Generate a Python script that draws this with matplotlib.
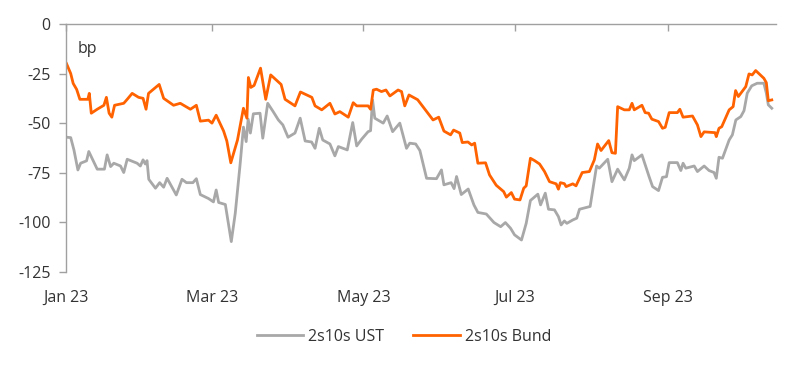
import matplotlib
matplotlib.use("Agg")
import matplotlib.pyplot as plt
import pandas as pd

plt.rcParams['font.family'] = ['Open Sans', 'DejaVu Sans']

# day offsets from 1 Jan 2023 and values (bp)
bund_day = [0.2, 1.9, 2.9, 4.3, 5.6, 8.8, 9.4, 10.2, 12.6, 15.3, 16.3, 17.4, 18.5, 19.6, 23.3, 24.7,
            26.7, 29.3, 31.1, 32.3, 33.3, 37.6, 39.4, 43.4, 46.1, 50.2, 52.6, 54.2, 57.5, 58.9, 60.6,
            63.6, 64.9, 66.5, 69.2, 71.6, 73.0, 73.6, 74.6, 75.9, 78.5, 80.6, 82.6, 86.8, 88.4, 92.4,
            94.6, 99.2, 100.5, 103.2, 106.5, 108.5, 110.5, 113.9, 115.9, 117.3, 121.9, 122.9, 124.0,
            125.3, 127.3, 129.1, 130.7, 134.0, 135.4, 136.7, 138.4, 141.9, 144.8, 148.1, 150.4, 152.5,
            155.2, 156.4, 158.9, 159.9, 162.2, 163.7, 164.9, 166.2, 169.3, 170.9, 173.6, 176.6, 177.7,
            179.7, 181.0, 183.2, 184.7, 185.7, 187.4, 189.1, 191.1, 193.1, 195.1, 197.8, 198.7, 199.5,
            201.1, 201.8, 204.5, 205.8, 208.3, 211.2, 213.2, 214.5, 215.9, 219.0, 220.3, 221.7, 222.6,
            225.3, 227.3, 228.4, 229.3, 232.4, 233.7, 235.1, 236.4, 239.1, 240.7, 241.8, 243.4, 246.7,
            247.7, 249.0, 252.8, 254.8, 256.2, 257.5, 261.9, 262.4, 263.5, 264.6, 267.6, 269.2, 270.2,
            271.3, 274.3, 275.6, 276.9, 278.3, 281.6, 282.6, 283.4, 284.8]
bund_val = [-20, -25, -30, -33, -38, -38, -35, -45, -43, -41, -37, -45, -47, -41, -40, -38,
            -35, -37, -37.5, -43, -35, -30.5, -37.5, -41, -40, -43, -41, -49, -48.5, -50, -46,
            -54, -59, -70, -58.5, -42.5, -47.5, -27, -32, -31, -22.3, -38, -25.7, -30.5, -38, -41.3,
            -34.3, -37, -41.3, -43.3, -40, -45.4, -44.2, -47, -39.7, -41.3, -41.3, -43, -33.3,
            -32.9, -34.1, -33.3, -36.3, -33.3, -34.1, -41.3, -35.8, -38.2, -43, -48.4, -47, -54,
            -55.9, -53.5, -55, -59.8, -59.5, -61, -60.1, -70.2, -70, -76.1, -81.3, -84.5, -87.3,
            -85, -88.3, -88.7, -82.8, -81.6, -67.7, -68.9, -70.6, -74.4, -79.5, -80.6, -83.3, -80,
            -80.5, -82, -80.6, -81.6, -74.9, -74.4, -68.5, -60.5, -63.8, -58.8, -64.9, -65.2, -41.7,
            -43.3, -43.3, -40, -43.3, -41, -44.7, -45, -48, -49.2, -52.6, -52.1, -44.7, -44.7,
            -43, -47, -46.4, -50.9, -56.8, -54.4, -54.8, -56.8, -52.6, -51.8, -43.3, -41.7, -33.6,
            -36.6, -31.6, -25.2, -25.7, -23.5, -27.4, -29.6, -38.7, -38.3]

ust_day = [0.2, 1.9, 3.2, 4.8, 5.9, 8.3, 9.2, 11.0, 12.6, 15.5, 16.6, 18.0, 19.3, 22.0, 23.3, 24.7,
           28.7, 30.0, 31.1, 32.0, 32.7, 33.4, 36.1, 37.8, 39.4, 40.8, 44.5, 46.8, 48.6, 51.2, 52.6,
           54.2, 57.5, 59.5, 60.6, 61.6, 64.3, 66.7, 68.3, 70.3, 71.6, 72.7, 73.5, 74.4, 75.6, 78.3,
           79.4, 81.4, 83.6, 85.7, 87.5, 89.6, 92.4, 94.5, 96.5, 99.1, 100.5, 102.2, 103.6, 106.5,
           108.5, 109.9, 113.5, 115.7, 117.3, 119.3, 121.9, 122.9, 123.7, 124.6, 128.0, 129.6, 131.8,
           134.7, 137.4, 138.7, 141.1, 142.8, 145.5, 149.5, 151.5, 152.5, 155.4, 156.6, 157.6, 159.5,
           162.3, 164.6, 166.2, 169.6, 172.7, 175.4, 177.3, 179.4, 181.0, 183.8, 185.7, 187.4, 190.4,
           191.5, 193.4, 194.7, 197.1, 198.7, 199.8, 201.1, 202.1, 204.5, 206.1, 207.2, 211.5, 214.1,
           215.2, 218.6, 220.3, 222.6, 225.3, 227.3, 228.4, 229.3, 232.4, 235.3, 236.7, 239.1, 240.7,
           242.3, 243.4, 246.7, 248.1, 249.0, 250.1, 253.5, 254.8, 257.5, 259.5, 261.5, 262.4, 263.5,
           264.9, 267.6, 268.9, 270.3, 272.3, 273.6, 274.9, 276.7, 278.9, 281.6, 282.6, 283.4, 284.8]
ust_val = [-57.1, -57.3, -63.5, -73.6, -70.2, -69, -64.3, -69, -73.2, -73.2, -66, -71.9, -70.2, -71.6, -74.9, -68.2,
           -70.2, -71.6, -68.5, -70.6, -68.9, -78.3, -82.8, -80, -82.3, -77.8, -86.2, -78.3, -80, -80, -78,
           -86, -88, -89.7, -83.7, -90, -91, -109.7, -95.4, -70.2, -52, -59.3, -48, -55, -45.3, -45,
           -57.6, -40, -44.2, -48.4, -50.9, -57.1, -55, -47.5, -59, -59.5, -62.7, -52.6, -58.5, -60.5,
           -66.5, -61.8, -63.5, -49.7, -61.5, -58.1, -54.3, -53.8, -38.3, -47.5, -50, -46.4, -54.3,
           -50, -62.7, -60.1, -60.5, -63.8, -77.8, -78, -73.6, -81.1, -80, -83, -76.9, -86,
           -83.2, -91.2, -95, -95.8, -100.1, -102.2, -100.1, -103, -106.3, -108.9, -100.5, -89, -85.8,
           -91.2, -85.3, -93.4, -93.7, -97.1, -101.3, -99.3, -100.5, -98.8, -97.9, -93.4, -92, -71.6,
           -72.7, -68.2, -79.5, -73.2, -78.6, -72.7, -66, -68.9, -66, -77, -82, -84, -77.3,
           -77, -69.9, -69.9, -73.9, -70.2, -72.7, -71.6, -74.4, -71.6, -73.9, -74.9, -77.8, -67.2,
           -67.7, -58.5, -55.9, -48.4, -46.7, -43.7, -34.9, -31.2, -29.9, -29.9, -34.9, -40.8, -42.5]

tick_dates = ['2023-01-01', '2023-03-01', '2023-05-01', '2023-07-01', '2023-09-01']
tick_labels = ['Jan 23', 'Mar 23', 'May 23', 'Jul 23', 'Sep 23']
y_ticks = [0, -25, -50, -75, -100, -125]

start = pd.Timestamp('2023-01-01')
tick_pos = [(pd.Timestamp(d) - start).days for d in tick_dates]

text_col = '#333333'
axis_col = '#a0a0a0'
orange = '#FF6200'
grey = '#A8A8A8'
fs = 11.5

fig = plt.figure(figsize=(8, 3.68), dpi=100)
ax = fig.add_axes([0.0825, 0.261, 0.8875, 0.674])

ax.plot(ust_day, ust_val, color=grey, lw=2.0, label='2s10s UST', solid_joinstyle='round')
ax.plot(bund_day, bund_val, color=orange, lw=2.0, label='2s10s Bund', solid_joinstyle='round')

ax.set_xlim(0, 286.5)
ax.set_ylim(-125, 0)

for s in ['right', 'bottom']:
    ax.spines[s].set_visible(False)
for s in ['top', 'left']:
    ax.spines[s].set_color(axis_col)
    ax.spines[s].set_linewidth(1.0)

ax.set_yticks(y_ticks)
ax.set_yticklabels([str(v) for v in y_ticks])
ax.tick_params(axis='y', length=5, width=1, color=axis_col, labelsize=fs, labelcolor=text_col, pad=6)

ax.set_xticks(tick_pos)
ax.set_xticklabels(tick_labels)
ax.tick_params(axis='x', top=True, bottom=False, labeltop=False, labelbottom=True,
               direction='in', length=5, width=1, color=axis_col, labelsize=fs,
               labelcolor=text_col, pad=13)

ax.text(0.016, 0.9, 'bp', transform=ax.transAxes, fontsize=fs, color=text_col, va='center', ha='left')

leg = fig.legend(loc='center', bbox_to_anchor=(0.505, 0.085), ncol=2, frameon=False,
                 fontsize=fs, handlelength=2.9, columnspacing=1.8, handletextpad=0.35)
for t in leg.get_texts():
    t.set_color(text_col)

fig.savefig('out.png', dpi=100)
